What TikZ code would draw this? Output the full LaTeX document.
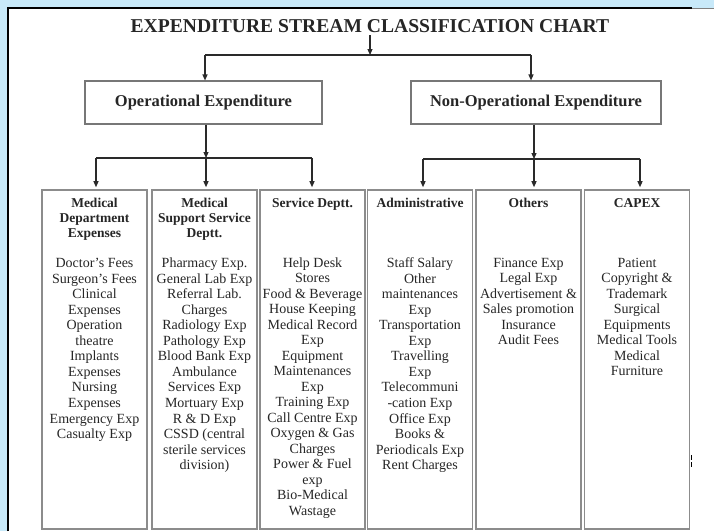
\documentclass[tikz,border=0pt]{standalone}
\usepackage{fontspec}
\setmainfont{Liberation Serif}
\usetikzlibrary{arrows.meta}
\definecolor{bgblue}{HTML}{C8E9F9}
\definecolor{conncol}{HTML}{2A2A2A}
\definecolor{boxgray}{HTML}{8C8C8C}
\definecolor{txtcol}{HTML}{262626}
\begin{document}
\begin{tikzpicture}[x=1pt,y=-1pt,
  conn/.style={draw=conncol, line width=1.1pt},
  arr/.style={conn, -{Triangle[length=6pt,width=5pt]}},
  topbox/.style={draw=boxgray!85!black, line width=1.1pt, fill=white, minimum height=43pt, inner sep=0pt,
                 text=txtcol, font=\bfseries\fontsize{16.5}{18}\selectfont},
  colbox/.style={draw=boxgray, line width=1.6pt, minimum width=105pt, minimum height=339pt, inner sep=0pt},
  hdr/.style={font=\bfseries\fontsize{13.5}{15}\selectfont, anchor=base, inner sep=0pt, text=txtcol},
  bodytxt/.style={font=\fontsize{14}{15.5}\selectfont, anchor=base, inner sep=0pt, text=txtcol},
]
\useasboundingbox (0,0) rectangle (714,531);
\fill[bgblue] (0,0) rectangle (714,531);
\fill[white] (8,8) rectangle (714,531);
\draw[black, line width=2pt] (8,531) -- (8,8) -- (692,8);
\draw[gray, line width=1pt] (692,8) -- (714,8);

% title
\node[font=\bfseries\fontsize{19.6}{22}\selectfont, anchor=base, inner sep=0pt, text=txtcol] (t) at (370,32)
  {EXPENDITURE STREAM CLASSIFICATION CHART};

% second level
\node[topbox, minimum width=237pt] (op) at (203.5,102.5) {Operational Expenditure};
\node[topbox, minimum width=250pt] (nop) at (536,102.5) {Non-Operational Expenditure};

% column boxes
\node[colbox] (c1) at (94.5,359.5) {};
\node[colbox] (c2) at (204.5,359.5) {};
\node[colbox] (c3) at (312.5,359.5) {};
\node[colbox] (c4) at (420,359.5) {};
\node[colbox] (c5) at (528.5,359.5) {};
\node[colbox] (c6) at (637,359.5) {};

% connectors top
\coordinate (j0) at (370,55);
\coordinate (jL) at (205,55);
\coordinate (jR) at (531,55);
\draw[arr] ([yshift=-3pt]t.south) -- (j0);
\draw[conn] (jL) -- (jR);
\draw[arr] (jL) -- (jL |- op.north);
\draw[arr] (jR) -- (jR |- nop.north);

% connectors operational
\coordinate (kL) at (206,158);
\coordinate (kL1) at (96,158);
\coordinate (kL3) at (312,158);
\draw[arr] (kL |- op.south) -- (kL);
\draw[conn] (kL1) -- (kL3);
\draw[arr] (kL1) -- ([yshift=2pt]kL1 |- c1.north);
\draw[arr] (kL) -- ([yshift=2pt]kL |- c2.north);
\draw[arr] (kL3) -- ([yshift=2pt]kL3 |- c3.north);

% connectors non-operational
\coordinate (kR) at (534,159);
\coordinate (kR1) at (423,159);
\coordinate (kR3) at (640,159);
\draw[arr] (kR |- nop.south) -- (kR);
\draw[conn] (kR1) -- (kR3);
\draw[arr] (kR1) -- ([yshift=2pt]kR1 |- c4.north);
\draw[arr] (kR) -- ([yshift=2pt]kR |- c5.north);
\draw[arr] (kR3) -- ([yshift=2pt]kR3 |- c6.north);

% headers
\foreach \s [count=\i] in {Medical, Department, Expenses}
  \node[hdr] (h1-\i) at (94.5,{192.5+15*\i}) {\s};
\foreach \s [count=\i] in {Medical, Support Service, Deptt.}
  \node[hdr] (h2-\i) at (204.5,{192.5+15*\i}) {\s};
\node[hdr] (h3) at (312.5,207.5) {Service Deptt.};
\node[hdr] (h4) at (420,207.5) {Administrative};
\node[hdr] (h5) at (528.5,207.5) {Others};
\node[hdr] (h6) at (637,207.5) {CAPEX};

% bodies
\foreach \s [count=\i] in {Doctor's Fees, Surgeon's Fees, Clinical, Expenses, Operation, theatre, Implants, Expenses, Nursing, Expenses, Emergency Exp, Casualty Exp}
  \node[bodytxt] (b1-\i) at (94.5,{252+15.55*\i}) {\s};
\foreach \s [count=\i] in {Pharmacy Exp., General Lab Exp, Referral Lab., Charges, Radiology Exp, Pathology Exp, Blood Bank Exp, Ambulance, Services Exp, Mortuary Exp, R \& D Exp, {CSSD (central}, sterile services, division)}
  \node[bodytxt] (b2-\i) at (204.5,{252+15.55*\i}) {\s};
\foreach \s [count=\i] in {Help Desk, Stores, Food \& Beverage, House Keeping, Medical Record, Exp, Equipment, Maintenances, Exp, Training Exp, Call Centre Exp, Oxygen \& Gas, Charges, Power \& Fuel, exp, Bio-Medical, Wastage}
  \node[bodytxt] (b3-\i) at (312.5,{251.5+15.5*\i}) {\s};
\foreach \s [count=\i] in {Staff Salary, Other, maintenances, Exp, Transportation, Exp, Travelling, Exp, Telecommuni, -cation Exp, Office Exp, Books \&, Periodicals Exp, Rent Charges}
  \node[bodytxt] (b4-\i) at (420,{252+15.55*\i}) {\s};
\foreach \s [count=\i] in {Finance Exp, Legal Exp, Advertisement \&, Sales promotion, Insurance, Audit Fees}
  \node[bodytxt] (b5-\i) at (528.5,{251.5+15.55*\i}) {\s};
\foreach \s [count=\i] in {Patient, Copyright \&, Trademark, Surgical, Equipments, Medical Tools, Medical, Furniture}
  \node[bodytxt] (b6-\i) at (637,{251.5+15.55*\i}) {\s};

% small mark at right
\draw[black, line width=1pt] (691,455) -- (691,460) (691,462) -- (691,467);
\end{tikzpicture}
\end{document}
